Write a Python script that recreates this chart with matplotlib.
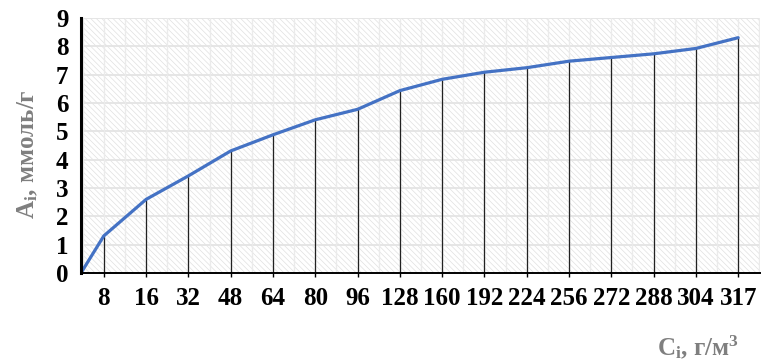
import numpy as np
import matplotlib
matplotlib.use("Agg")
import matplotlib.pyplot as plt

# concentration categories (g/m3) and sorption values (mmol/g)
conc_labels = ["8", "16", "32", "48", "64", "80", "96", "128", "160",
               "192", "224", "256", "272", "288", "304", "317"]
a_values = [1.31, 2.60, 3.43, 4.31, 4.88, 5.41, 5.78, 6.44, 6.84,
            7.09, 7.25, 7.48, 7.61, 7.74, 7.93, 8.31]
start_value = 0.0

plt.rcParams["font.family"] = ["Liberation Serif", "DejaVu Serif"]
plt.rcParams["font.weight"] = "bold"
plt.rcParams["mathtext.fontset"] = "custom"
plt.rcParams["mathtext.rm"] = "Liberation Serif:bold"
plt.rcParams["mathtext.it"] = "Liberation Serif:bold"
plt.rcParams["mathtext.bf"] = "Liberation Serif:bold"
plt.rcParams["hatch.color"] = "#e0e0e0"
plt.rcParams["hatch.linewidth"] = 0.5

fig = plt.figure(figsize=(7.64, 3.63), dpi=100)
ax = fig.add_axes([0.106, 0.248, 0.889, 0.702])

pos = np.arange(len(conc_labels)) + 0.54
x_line = np.concatenate([[0.0], pos])
y_line = np.concatenate([[start_value], a_values])

# hatched background
ax.patch.set_facecolor("white")
ax.patch.set_hatch("\\\\\\\\\\\\")
ax.patch.set_edgecolor("#e0e0e0")

# grid lines
for y in range(1, 10):
    ax.axhline(y, color="#e4e4e4", lw=1.3, zorder=1)
for gx in np.arange(pos[0] - 0.5, pos[-1] + 0.6, 0.5):
    ax.axvline(gx, color="#ebebeb", lw=1.0, zorder=1)

# drop lines from each point to the axis
ax.vlines(pos, 0, a_values, colors="#222222", lw=0.9, zorder=2)
ax.plot(x_line, y_line, color="#4472c4", lw=2.3, zorder=3,
        solid_capstyle="round", solid_joinstyle="round")

ax.set_xlim(0, pos[-1] + 0.52)
ax.set_ylim(0, 9)
ax.set_yticks(range(0, 10))
ax.set_xticks(pos)
ax.set_xticklabels(conc_labels)
ax.tick_params(axis="y", length=0, pad=9, labelsize=18)
ax.tick_params(axis="x", length=3, width=1, pad=7, labelsize=18, direction="out")

for side in ["top", "right"]:
    ax.spines[side].set_visible(False)
ax.spines["left"].set_linewidth(2.2)
ax.spines["bottom"].set_linewidth(1.4)
ax.spines["left"].set_zorder(4)
ax.spines["bottom"].set_zorder(4)

fig.text(0.036, 0.575, r"$\mathrm{A_i}$, ммоль/г", rotation=90,
         ha="center", va="center", fontsize=18, color="#7f7f7f")
fig.text(0.913, 0.045, r"$\mathrm{C_i}$, г/м$^3$",
         ha="center", va="center", fontsize=18, color="#7f7f7f")

fig.savefig("out.png", dpi=100)
